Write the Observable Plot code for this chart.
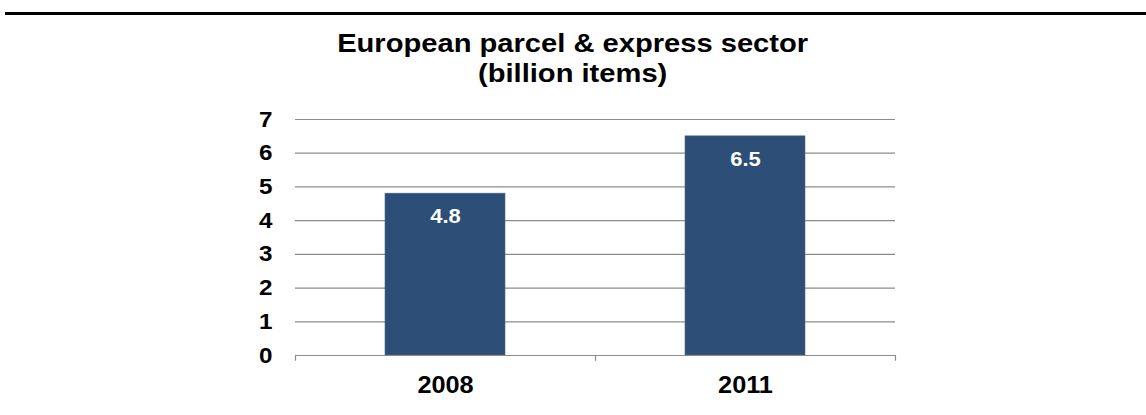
<!DOCTYPE html>
<html><head><meta charset="utf-8">
<script src="https://cdn.jsdelivr.net/npm/d3@7"></script>
<script src="https://cdn.jsdelivr.net/npm/@observablehq/plot@0.6"></script>
<style>
html,body{margin:0;padding:0;background:#fff;}
#wrap{position:relative;width:1146px;height:415px;overflow:hidden;font-family:"Liberation Sans",Arial,sans-serif;}
#topline{position:absolute;left:5px;right:0;top:12px;height:3px;background:#000;}
#title{position:absolute;left:0;width:1146px;top:28px;text-align:center;font-weight:bold;font-size:26px;line-height:30px;color:#000;transform:scaleX(1.12);transform-origin:576px 0;}
#chart{position:absolute;left:0;top:0;}
</style></head>
<body><div id="wrap"><div id="chart"></div><div id="topline"></div>
<div id="title">European parcel &amp; express sector<br>(billion items)</div></div>
<script>
const years = ["2008", "2011"];
const values = [4.8, 6.5];
const yTicks = [0, 1, 2, 3, 4, 5, 6, 7];

const data = years.map((y, i) => ({year: y, value: values[i]}));
const W = 1146, H = 415, mL = 295, mR = 251, mT = 119, mB = 60;
const step = (W - mL - mR) / years.length;
const stretch = 1.1;

const plot = Plot.plot({
  width: W, height: H,
  marginLeft: mL, marginRight: mR, marginTop: mT, marginBottom: mB,
  style: {fontFamily: '"Liberation Sans", Arial, sans-serif', background: "transparent"},
  x: {domain: years, paddingInner: 0.6, paddingOuter: 0.3, align: 0.5, label: null},
  y: {domain: [0, 7], label: null},
  marks: [
    Plot.gridY(yTicks, {stroke: "#8c8c8c", strokeOpacity: 1, strokeWidth: 1.2}),
    Plot.barY(data, {x: "year", y: "value", fill: "#2D4E77", stroke: "#4a6a92", strokeWidth: 0.6}),
    Plot.ruleY([0], {stroke: "#8c8c8c", strokeWidth: 1.2}),
    Plot.ruleX(years, {x: d => d, dx: -step / 2, y1: 0, y2: -0.17, stroke: "#8c8c8c", strokeWidth: 1.2}),
    Plot.ruleX(years.slice(-1), {x: d => d, dx: step / 2, y1: 0, y2: -0.17, stroke: "#8c8c8c", strokeWidth: 1.2}),
    Plot.text(data, {x: "year", y: "value", text: d => d.value.toFixed(1), dy: 23, fill: "#fff", fontWeight: "bold", fontSize: 20}),
    Plot.axisY(yTicks, {tickSize: 0, tickPadding: 23, fontSize: 22, fontWeight: "bold", fill: "#000", tickFormat: d => String(d)}),
    Plot.axisX({tickSize: 0, tickPadding: 21, fontSize: 23, fontWeight: "bold", fill: "#000"})
  ]
});
// slight horizontal stretch of glyphs, as in the reference
plot.querySelectorAll("text").forEach(t => {
  const x = t.getAttribute("x");
  if (x != null) t.setAttribute("x", (+x) / stretch);
  const tr = t.getAttribute("transform") || "";
  t.setAttribute("transform", (tr + ` scale(${stretch},1)`).trim());
});
document.getElementById("chart").appendChild(plot);
</script></body></html>
